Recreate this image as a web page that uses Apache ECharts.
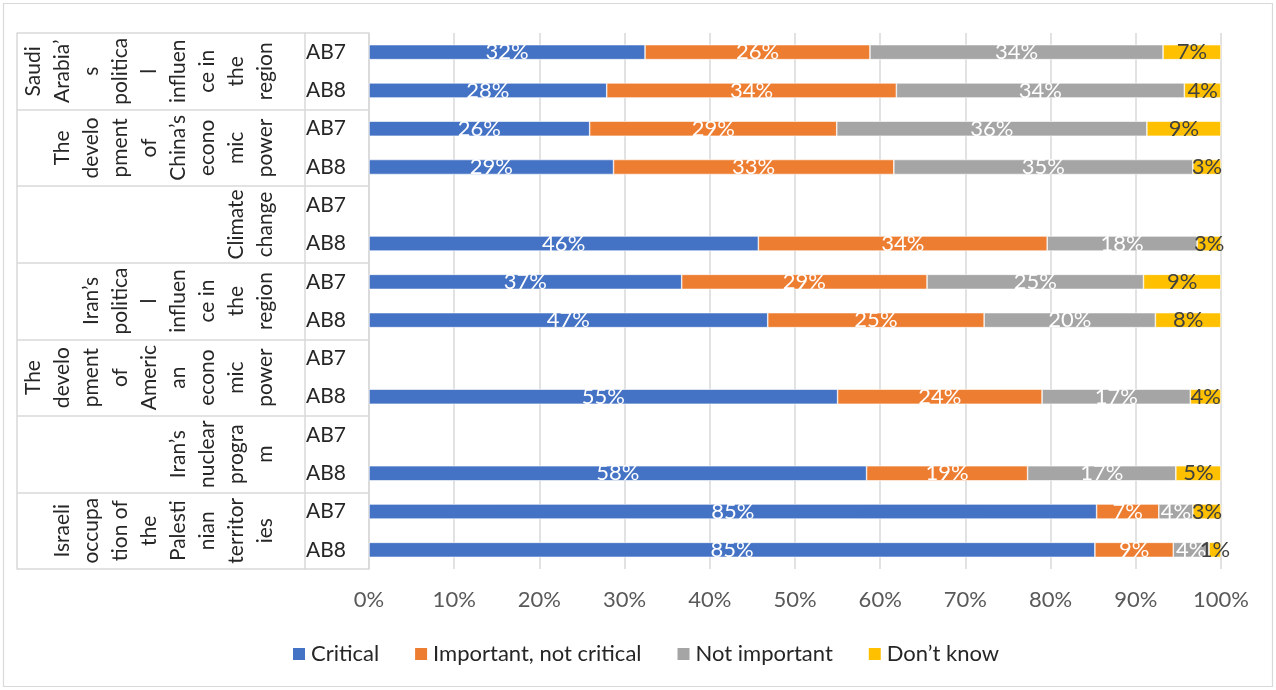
<!DOCTYPE html>
<html><head><meta charset="utf-8">
<script src="https://cdn.jsdelivr.net/npm/echarts@6/dist/echarts.min.js"></script>
<style>html,body{margin:0;padding:0;background:#fff}#c{width:1276px;height:690px}</style>
</head><body><div id="c"></div>
<script>
const rows = ['AB7','AB8','AB7','AB8','AB7','AB8','AB7','AB8','AB7','AB8','AB7','AB8','AB7','AB8'];
const groups = [
  'Saudi\nArabia’\ns\npolitica\nl\ninfluen\nce in\nthe\nregion',
  'The\ndevelo\npment\nof\nChina’s\necono\nmic\npower',
  'Climate\nchange',
  'Iran’s\npolitica\nl\ninfluen\nce in\nthe\nregion',
  'The\ndevelo\npment\nof\nAmeric\nan\necono\nmic\npower',
  'Iran’s\nnuclear\nprogra\nm',
  'Israeli\noccupa\ntion of\nthe\nPalesti\nnian\nterritor\nies'
];
const seriesNames = ['Critical','Important, not critical','Not important','Don’t know'];
const critical     = [32.4, 27.9, 25.9, 28.7, null, 45.7, 36.7, 46.8, null, 55.0, null, 58.4, 85.4, 85.2];
const important    = [26.4, 34.0, 29.0, 32.9, null, 33.9, 28.8, 25.4, null, 24.0, null, 18.9, 7.3, 9.2];
const notImportant = [34.4, 33.8, 36.4, 35.1, null, 17.6, 25.4, 20.1, null, 17.4, null, 17.4, 4.0, 4.2];
const dontKnow     = [6.8, 4.3, 8.7, 3.3, null, 2.8, 9.1, 7.7, null, 3.6, null, 5.3, 3.3, 1.4];

const FONT = 'Lato, Carlito, Calibri, sans-serif';
const FS = 22;
const lineGrey = {color:'#d9d9d9', width:1.5};
const colors = ['#4472C4','#ED7D31','#A5A5A5','#FFC000'];
const labelColors = ['#ffffff','#ffffff','#ffffff','#404040'];
const values = [critical, important, notImportant, dontKnow];

const chart = echarts.init(document.getElementById('c'));
chart.setOption({
  animation:false,
  textStyle:{fontFamily:FONT},
  color: colors,
  grid:{left:369, right:55, top:33, bottom:121, containLabel:false},
  graphic:[{type:'rect', silent:true, shape:{x:3.5,y:3.5,width:1269,height:683},
            style:{fill:'none', stroke:'#d9d9d9', lineWidth:1.2}}],
  legend:{left:286, top:638, itemWidth:14, itemHeight:14, itemGap:34, icon:'rect',
          textStyle:{fontSize:FS, color:'#262626', fontFamily:FONT}, data:seriesNames},
  xAxis:{type:'value', min:0, max:100, interval:10,
         axisLabel:{formatter:'{value}%', fontSize:FS, color:'#595959', margin:20, fontFamily:FONT},
         splitLine:{show:true, lineStyle:lineGrey}, axisLine:{show:false}, axisTick:{show:false}},
  yAxis:[
    {type:'category', data:rows, inverse:true,
     axisLine:{show:true, lineStyle:lineGrey}, axisTick:{show:false},
     axisLabel:{fontSize:21, color:'#262626', margin:23, interval:0, fontFamily:FONT}},
    {type:'category', data:groups, inverse:true, position:'left', offset:64,
     axisLine:{show:true, lineStyle:lineGrey},
     axisTick:{show:true, interval:0, length:288, lineStyle:lineGrey},
     axisLabel:{interval:0, rotate:90, align:'center', verticalAlign:'bottom', margin:25,
                lineHeight:29, fontSize:21, color:'#262626', fontFamily:FONT}},
    {type:'category', data:groups, inverse:true, position:'left', offset:0,
     axisLine:{show:false}, axisTick:{show:true, interval:0, length:64, lineStyle:lineGrey},
     axisLabel:{show:false}},
    {type:'category', data:groups, inverse:true, position:'left', offset:352,
     axisLine:{show:true, lineStyle:lineGrey}, axisTick:{show:false}, axisLabel:{show:false}}
  ],
  series: seriesNames.map((n,i)=>({
    name:n, type:'bar', stack:'total', yAxisIndex:0, barWidth:15,
    data: values[i],
    itemStyle:{color:colors[i], borderColor:'#ffffff', borderWidth:0.6},
    label:{show:true, position:'inside', fontSize:FS, color:labelColors[i], fontFamily:FONT,
           formatter:p => (p.value==null ? '' : Math.round(p.value)+'%')}
  }))
});
</script></body></html>
